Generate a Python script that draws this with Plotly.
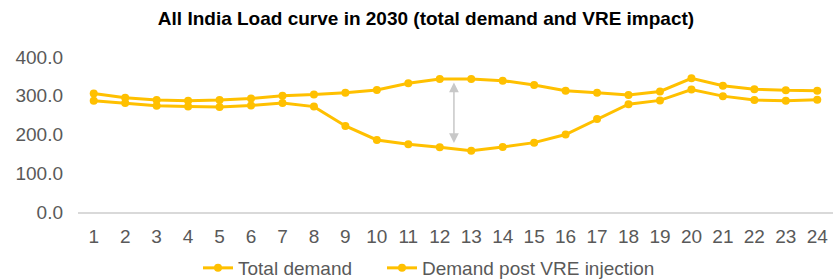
import plotly.graph_objects as go

hours = list(range(1, 25))
total_demand = [306, 295, 289, 287, 289, 293, 300, 303, 308, 315, 332, 343,
                343, 339, 328, 313, 308, 302, 311, 345, 326, 317, 314, 313]
post_vre = [287, 281, 274, 272, 271, 275, 281, 272, 222, 186, 175, 167,
            158, 168, 179, 200, 240, 278, 288, 316, 299, 289, 287, 290]
y_ticks = [0, 100, 200, 300, 400]

# gap arrow annotation (hour position and extent in data units)
arrow_x = 12.45
arrow_top = 338
arrow_bottom = 178

GOLD = "#FFC000"
TXT = "#595959"
FONT = "Liberation Sans, Arial, sans-serif"

fig = go.Figure()
fig.add_trace(go.Scatter(
    x=hours, y=total_demand, name="Total demand", mode="lines+markers",
    line=dict(color=GOLD, width=3), marker=dict(color=GOLD, size=8),
    legend="legend"))
fig.add_trace(go.Scatter(
    x=hours, y=post_vre, name="Demand post VRE injection", mode="lines+markers",
    line=dict(color=GOLD, width=3), marker=dict(color=GOLD, size=8),
    legend="legend2"))

fig.add_annotation(
    x=arrow_x, y=arrow_bottom, ax=arrow_x, ay=arrow_top,
    xref="x", yref="y", axref="x", ayref="y",
    text="", showarrow=True, arrowside="end+start",
    arrowhead=2, arrowsize=1.3, arrowwidth=1.5, arrowcolor="#C8C8C8")

legend_common = dict(orientation="h", xanchor="left",
                     xref="container", yref="container",
                     y=1 - 268 / 280, yanchor="middle",
                     font=dict(family=FONT, color=TXT, size=19),
                     itemwidth=30, bgcolor="rgba(0,0,0,0)")

fig.update_layout(
    width=833, height=280,
    margin=dict(l=78, r=0, t=57, b=68, autoexpand=False),
    paper_bgcolor="white", plot_bgcolor="white",
    font=dict(family=FONT, color=TXT, size=19),
    title=dict(text="<b>All India Load curve in 2030 (total demand and VRE impact)</b>",
               x=426 / 833, xanchor="center", y=1 - 18.5 / 280, yanchor="middle",
               yref="container", xref="container", automargin=False,
               font=dict(family=FONT, color="black", size=19)),
    showlegend=True,
    legend=dict(x=198 / 833, **legend_common),
    legend2=dict(x=382 / 833, **legend_common),
    xaxis=dict(range=[0.5, 24.5], tickmode="array", tickvals=hours,
               ticktext=[str(h) for h in hours], showgrid=False, zeroline=False,
               showline=True, linecolor="#D9D9D9", linewidth=1.5,
               ticks="", ticklabelstandoff=6, automargin=False,
               tickfont=dict(family=FONT, color=TXT, size=19)),
    yaxis=dict(range=[0, 400], tickmode="array", tickvals=y_ticks,
               ticktext=[f"{v:.1f}" for v in y_ticks], showgrid=False,
               zeroline=False, showline=False, ticks="", ticklabelstandoff=14,
               automargin=False,
               tickfont=dict(family=FONT, color=TXT, size=19)),
)

fig.write_html("out.html", config={"displayModeBar": False},
               post_script="document.body.style.margin='0';document.body.style.overflow='hidden';")
